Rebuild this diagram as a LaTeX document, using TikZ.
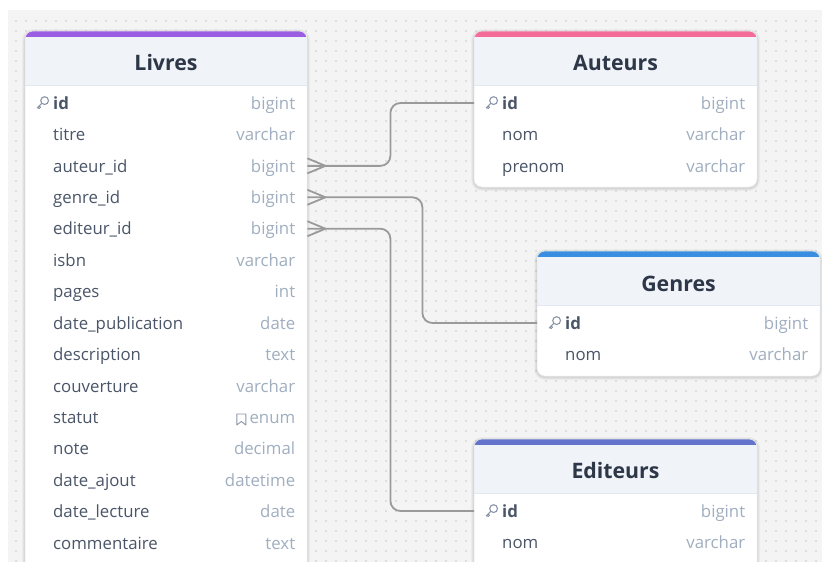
\documentclass[tikz,border=0pt]{standalone}
\usepackage{fontspec}
\setmainfont{Open Sans}

\definecolor{bgcol}{HTML}{F4F4F4}
\definecolor{dotcol}{HTML}{C9C9C9}
\definecolor{hdrcol}{HTML}{F0F3F8}
\definecolor{sepcol}{HTML}{E2E8F0}
\definecolor{framecol}{HTML}{E6E8EC}
\definecolor{fieldcol}{HTML}{4A5568}
\definecolor{typecol}{HTML}{A0AEC0}
\definecolor{titlecol}{HTML}{2D3748}
\definecolor{conncol}{HTML}{9A9A9A}
\definecolor{iconcol}{HTML}{8A96A8}
\definecolor{livrescol}{HTML}{9A5EE2}
\definecolor{auteurscol}{HTML}{F46C98}
\definecolor{genrescol}{HTML}{3A8EE0}
\definecolor{editeurscol}{HTML}{6473CC}

% table frame: x0, x1, top, header bottom, bottom, band colour
\newcommand\erdframe[6]{%
  \fill[black, opacity=0.03, rounded corners=11] (#1-3,#3-2) rectangle (#2+3,#5+4);
  \fill[black, opacity=0.04, rounded corners=10] (#1-2,#3-1) rectangle (#2+2,#5+3);
  \fill[black, opacity=0.05, rounded corners=9] (#1-1,#3) rectangle (#2+1,#5+2);
  \fill[white, rounded corners=8] (#1,#3) rectangle (#2,#5);
  \begin{scope}
    \clip[rounded corners=8] (#1,#3) rectangle (#2,#5);
    \fill[hdrcol] (#1,#3) rectangle (#2,#4);
    \fill[#6] (#1,#3) rectangle (#2,#3+6);
    \draw[sepcol, line width=1] (#1,#4) -- (#2,#4);
  \end{scope}
  \draw[framecol, line width=0.5, rounded corners=8] (#1,#3) rectangle (#2,#5);
}

% one column row: name, x0, width, y, field, type
\newcommand\fieldrow[6]{%
  \node[rowbox, minimum width=#3] (#1) at (#2,#4) {};
  \node[fld] (#1-f) at ([xshift=28pt, yshift=-3.5pt]#1.west) {#5};
  \node[typ] (#1-t) at ([xshift=-12pt, yshift=-3.5pt]#1.east) {#6};
}

\begin{document}
\begin{tikzpicture}[x=1pt, y=-1pt,
  rowbox/.style={anchor=west, inner sep=0pt, minimum height=31pt},
  fld/.style={anchor=mid west, inner sep=0pt, text=fieldcol,
    font=\fontsize{16.8}{20}\selectfont},
  typ/.style={anchor=mid east, inner sep=0pt, text=typecol,
    font=\fontsize{16.8}{20}\selectfont},
  title/.style={inner sep=0pt, text=titlecol,
    font=\fontsize{21.3}{25}\selectfont\bfseries},
  conn/.style={draw=conncol, line width=1.8pt, rounded corners=10pt},
  crow/.style={draw=conncol, line width=1.8pt},
  keyicon/.pic={
    \draw[iconcol, line width=1.1pt] (1.6,-2.4) circle (3.9);
    \draw[iconcol, line width=1.1pt, line cap=round, line join=round]
      (-1.2,0.4) -- (-5.6,4.8) -- (-3.4,5.4)
      (-3.8,3.0) -- (-2.4,4.4);
  },
  markicon/.pic={
    \draw[iconcol, line width=0.9pt, line join=round]
      (-4.5,-5.5) -- (4.5,-5.5) -- (4.5,5.5) -- (0,2) -- (-4.5,5.5) -- cycle;
  },
]
\useasboundingbox (0,0) rectangle (822,562);
\fill[white] (0,0) rectangle (822,562);
\fill[bgcol] (8,10) rectangle (822,562);
\foreach \x in {16,26,...,816}
  \foreach \y in {21,31,...,561}
    \fill[dotcol] (\x,\y) circle (0.85);

% ---- Livres
\erdframe{25}{307}{31}{85}{600}{livrescol}
\node[title] (livres) at (166,63) {Livres};
\foreach \f/\t [count=\i from 0] in {%
  {\bfseries id}/bigint, titre/varchar, auteur\_id/bigint, genre\_id/bigint,
  editeur\_id/bigint, isbn/varchar, pages/int, date\_publication/date,
  description/text, couverture/varchar, statut/enum, note/decimal,
  date\_ajout/datetime, date\_lecture/date, commentaire/text}
  {\fieldrow{l\i}{25}{282}{103+\i*31.43}{\f}{\t}}
\pic at ([xshift=18pt]l0.west) {keyicon};
\pic at ([xshift=-8pt, yshift=-0.5pt]l10-t.west) {markicon};

% ---- Auteurs
\erdframe{474}{757}{31}{85}{187}{auteurscol}
\node[title] (auteurs) at (615.5,63) {Auteurs};
\fieldrow{a0}{474}{283}{103}{\bfseries id}{bigint}
\fieldrow{a1}{474}{283}{134.4}{nom}{varchar}
\fieldrow{a2}{474}{283}{165.9}{prenom}{varchar}
\pic at ([xshift=18pt]a0.west) {keyicon};

% ---- Genres
\erdframe{537}{820}{251}{305}{376}{genrescol}
\node[title] (genres) at (678.5,284) {Genres};
\fieldrow{g0}{537}{283}{323}{\bfseries id}{bigint}
\fieldrow{g1}{537}{283}{354.4}{nom}{varchar}
\pic at ([xshift=18pt]g0.west) {keyicon};

% ---- Editeurs
\erdframe{474}{757}{439}{493}{600}{editeurscol}
\node[title] (editeurs) at (615.5,471) {Editeurs};
\fieldrow{e0}{474}{283}{511}{\bfseries id}{bigint}
\fieldrow{e1}{474}{283}{542.4}{nom}{varchar}
\pic at ([xshift=18pt]e0.west) {keyicon};

% ---- relations (many side at Livres)
\draw[conn] (l2.east) -- ++(83,0) |- (a0.west);
\draw[conn] (l3.east) -- ++(115,0) |- (g0.west);
\draw[conn] (l4.east) -- ++(83,0) |- (e0.west);
\foreach \r in {l2,l3,l4}
  \draw[crow] (\r.east) ++(0,-7.5) -- ++(18,7.5) -- ++(-18,7.5);
\end{tikzpicture}
\end{document}
